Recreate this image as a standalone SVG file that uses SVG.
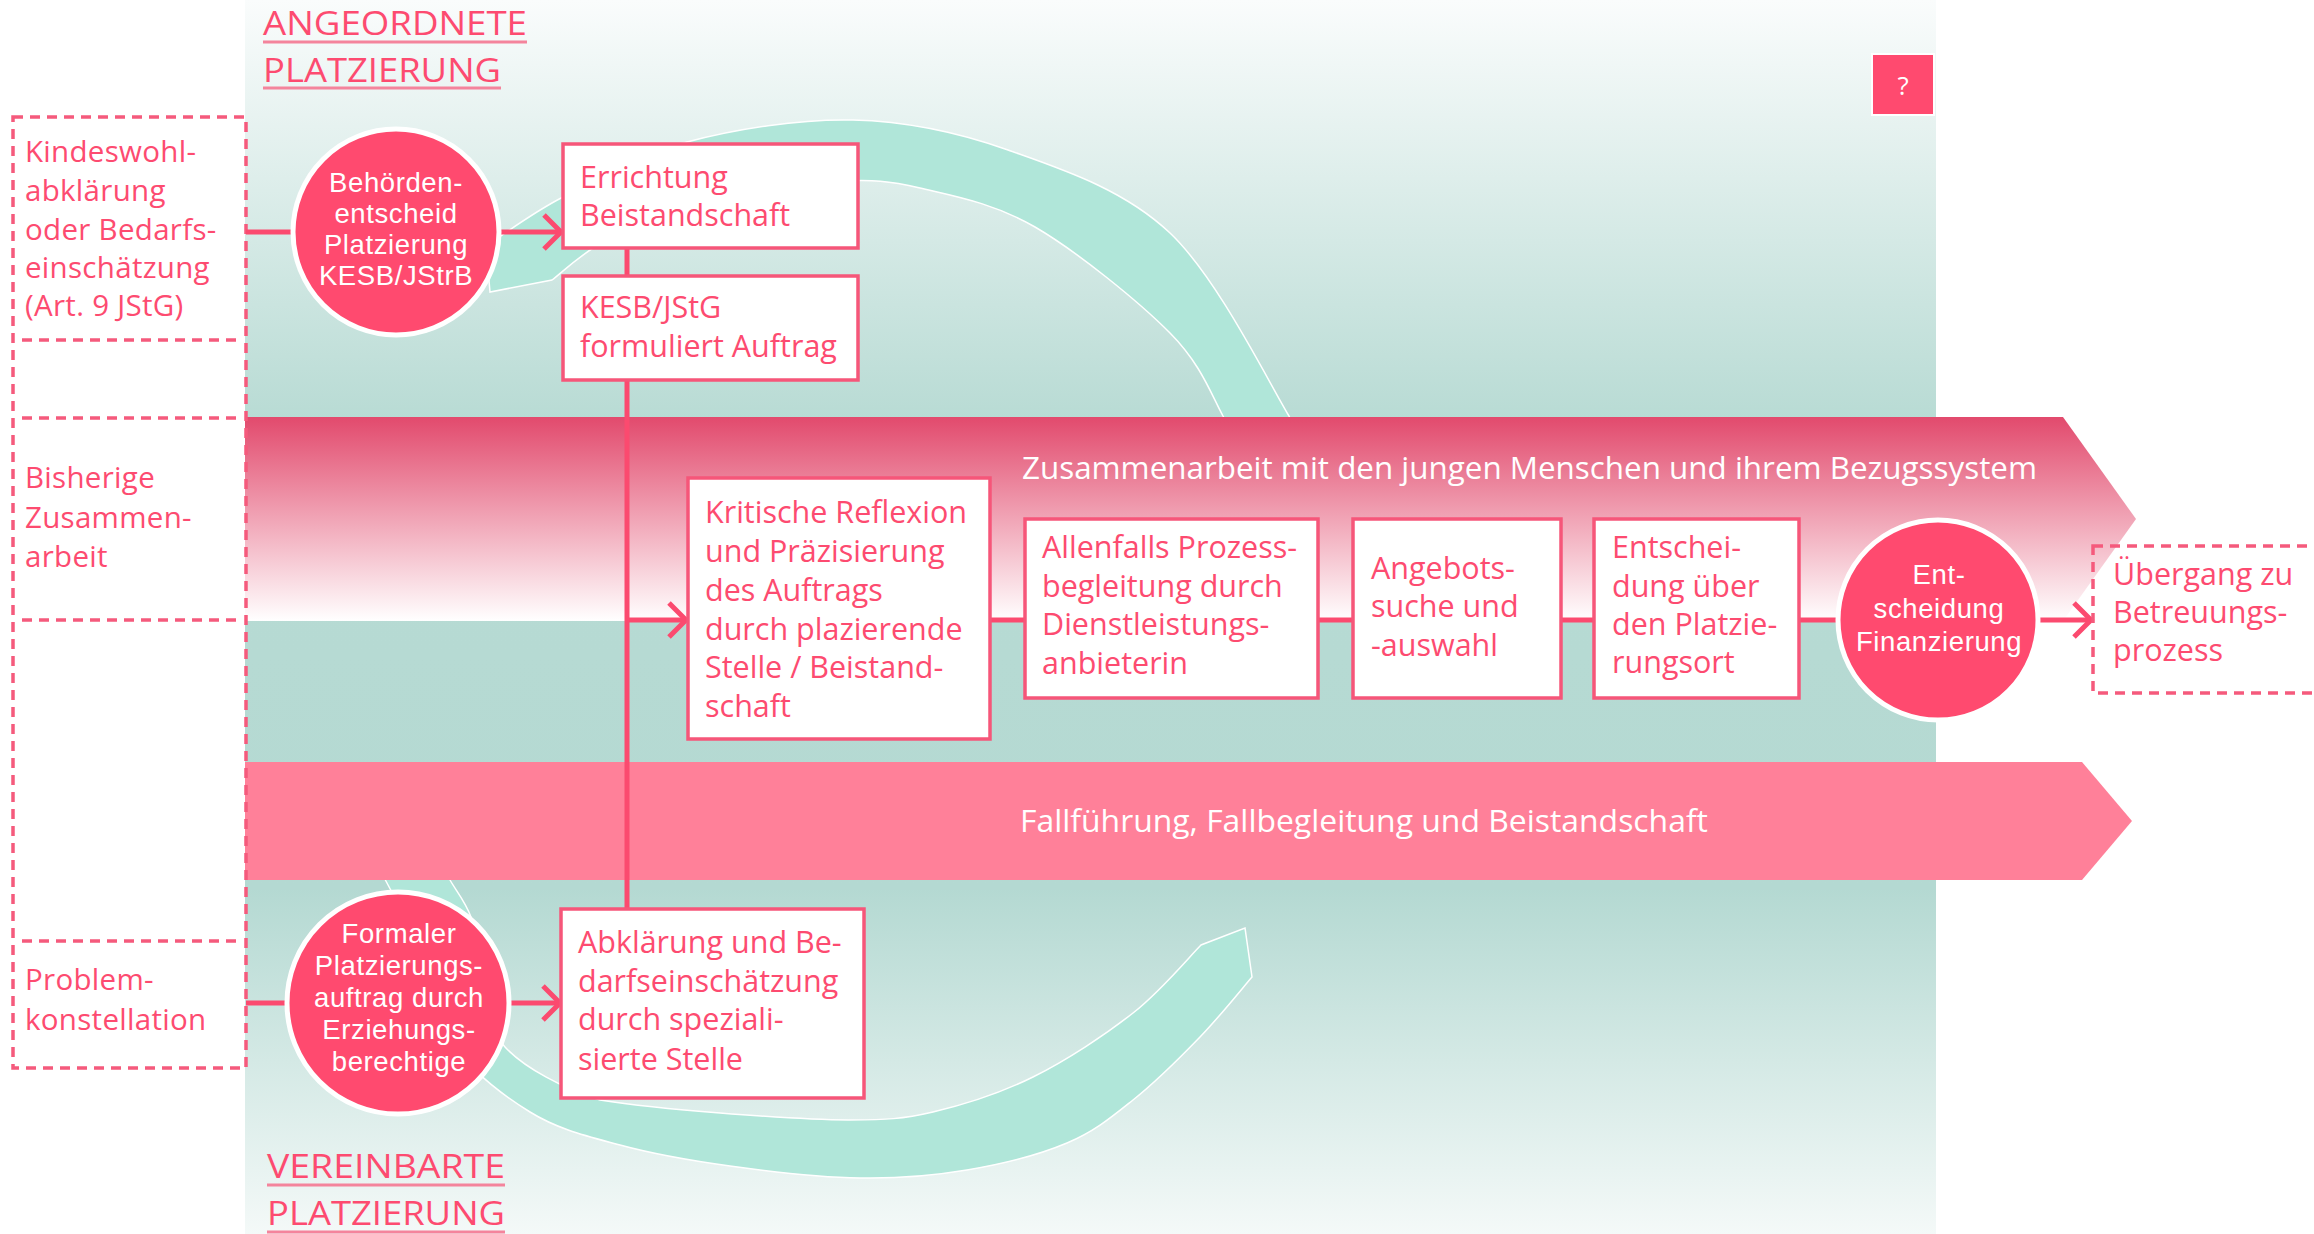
<svg xmlns="http://www.w3.org/2000/svg" width="2314" height="1234" viewBox="0 0 2314 1234">
<defs>
<linearGradient id="panelG" x1="0" y1="0" x2="0" y2="1234" gradientUnits="userSpaceOnUse">
<stop offset="0" stop-color="#fafcfc"/>
<stop offset="0.34" stop-color="#b8dbd4"/>
<stop offset="0.72" stop-color="#b4d9d2"/>
<stop offset="1" stop-color="#f4f9f8"/>
</linearGradient>
<linearGradient id="band1G" x1="0" y1="417" x2="0" y2="621" gradientUnits="userSpaceOnUse">
<stop offset="0" stop-color="#e24a6d"/>
<stop offset="1" stop-color="#ffffff"/>
</linearGradient>
<style>
.t{font-family:"Open Sans","Liberation Sans",sans-serif;font-size:30.5px;fill:#fd4b70}
.l{font-family:"Open Sans","Liberation Sans",sans-serif;font-size:29.5px;letter-spacing:0.3px;fill:#fd4b70}
.c{font-family:"Liberation Sans",Arial,sans-serif;font-size:27.5px;letter-spacing:0.6px;fill:#ffffff;text-anchor:middle}
.h{font-family:"Open Sans","Liberation Sans",sans-serif;font-size:33px;fill:#fd4b70}
.bt{font-family:"Open Sans","Liberation Sans",sans-serif;font-size:30.5px;fill:#ffffff}
.box{fill:#ffffff;stroke:#f65679;stroke-width:3.5}
.circ{fill:#ff4a6f;stroke:#ffffff;stroke-width:5}
.dash{fill:none;stroke:#f55a7c;stroke-width:3.5;stroke-dasharray:10 7}
.con{fill:none;stroke:#fb4a6f;stroke-width:5}
.arc{fill:#b0e6d9;stroke:#ffffff;stroke-width:1.5}
.ul{stroke:#f4849c;stroke-width:3}
</style>
</defs>

<rect id="panel" x="245" y="0" width="1691" height="1234" fill="url(#panelG)"/>

<g id="cycle-arc">
<path class="arc" d="M490 292 L486 246 C499 238 529.5 214.3 563 197 C596.5 179.7 638.7 154.8 687 142 C735.3 129.2 799.5 118.7 853 120 C906.5 121.3 955.2 131.2 1008 150 C1060.8 168.8 1123.2 188.7 1170 233 C1216.8 277.3 1266.5 378.2 1289 416 C1300 440 1303 452 1305 460 L1240 460 C1237.2 452.7 1234.7 437.2 1223 416 C1211.3 394.8 1201.3 364.5 1170 333 C1138.7 301.5 1076.7 251.2 1035 227 C993.3 202.8 952.5 195.7 920 188 C887.5 180.3 873.3 179.8 840 181 C806.7 182.2 758.3 185.5 720 195 C681.7 204.5 638 223.8 610 238 C582 252.2 561.7 273 552 280 Z"/>
<path class="arc" d="M380 870 C385 880 398.3 901.7 410 930 C421.7 958.3 430 1009.7 450 1040 C470 1070.3 501.7 1094.5 530 1112 C558.3 1129.5 586.7 1136 620 1145 C653.3 1154 690 1160.5 730 1166 C770 1171.5 820.5 1177.3 860 1178 C899.5 1178.7 932.5 1175.8 967 1170 C1001.5 1164.2 1039.3 1154.7 1067 1143 C1094.7 1131.3 1110.8 1117.7 1133 1100 C1155.2 1082.3 1180.2 1057.5 1200 1037 C1219.8 1016.5 1243.3 987 1252 977 L1245 928 L1201 945 C1189.7 956.3 1161 991 1133 1013 C1105 1035 1066.3 1060.5 1033 1077 C999.7 1093.5 963.5 1104.8 933 1112 C902.5 1119.2 885.5 1119.8 850 1120 C814.5 1120.2 761.7 1116.3 720 1113 C678.3 1109.7 626.7 1104.2 600 1100 C564.2 1089 524.2 1067.8 505 1047 C485.8 1026.2 490.7 996.7 485 975 C479.3 953.3 476.8 932.8 471 917 C465.2 901.2 455.2 889.5 450 880 L440 860 Z"/>
</g>

<g id="band-zusammenarbeit">
<polygon points="245,417 2063,417 2136,519 2063,621 245,621" fill="url(#band1G)"/>
<text class="bt" x="1022" y="479" textLength="1015" lengthAdjust="spacingAndGlyphs">Zusammenarbeit mit den jungen Menschen und ihrem Bezugssystem</text>
</g>
<g id="band-fallfuehrung">
<polygon points="245,762 2082,762 2132,821 2082,880 245,880" fill="#ff8099"/>
<text class="bt" x="1020" y="832" textLength="688" lengthAdjust="spacingAndGlyphs">Fallführung, Fallbegleitung und Beistandschaft</text>
</g>

<g id="left-column">
<rect class="dash" x="13" y="117" width="233" height="951"/>
<line class="dash" x1="22" y1="340" x2="238" y2="340"/>
<line class="dash" x1="22" y1="418" x2="238" y2="418"/>
<line class="dash" x1="22" y1="620" x2="238" y2="620"/>
<line class="dash" x1="22" y1="941" x2="238" y2="941"/>
</g>

<g id="n-kindeswohl">
<text class="l" x="25" y="162">Kindeswohl-</text>
<text class="l" x="25" y="201">abklärung</text>
<text class="l" x="25" y="240">oder Bedarfs-</text>
<text class="l" x="25" y="278">einschätzung</text>
<text class="l" x="25" y="316">(Art. 9 JStG)</text>
</g>
<g id="n-bisherige">
<text class="l" x="25" y="488">Bisherige</text>
<text class="l" x="25" y="528">Zusammen-</text>
<text class="l" x="25" y="567">arbeit</text>
</g>
<g id="n-problem">
<text class="l" x="25" y="990">Problem-</text>
<text class="l" x="25" y="1030">konstellation</text>
</g>

<g id="connectors">
<line class="con" x1="246" y1="232" x2="296" y2="232"/>
<line class="con" x1="496" y1="232" x2="561" y2="232"/>
<path class="con" d="M544 215 L561 232 L544 249"/>
<line class="con" x1="627" y1="246" x2="627" y2="278"/>
<line class="con" x1="627" y1="378" x2="627" y2="911"/>
<line class="con" x1="627" y1="620" x2="686" y2="620"/>
<path class="con" d="M669 603 L686 620 L669 637"/>
<line class="con" x1="988" y1="620" x2="1027" y2="620"/>
<line class="con" x1="1316" y1="620" x2="1355" y2="620"/>
<line class="con" x1="1559" y1="620" x2="1596" y2="620"/>
<line class="con" x1="1797" y1="620" x2="1840" y2="620"/>
<line class="con" x1="2038" y1="620" x2="2091" y2="620"/>
<path class="con" d="M2074 603 L2091 620 L2074 637"/>
<line class="con" x1="246" y1="1003" x2="290" y2="1003"/>
<line class="con" x1="506" y1="1003" x2="560" y2="1003"/>
<path class="con" d="M543 986 L560 1003 L543 1020"/>
</g>

<g id="n-behoerdenentscheid">
<circle class="circ" cx="396" cy="232" r="103"/>
<text class="c" x="396" y="192">Behörden-</text>
<text class="c" x="396" y="223">entscheid</text>
<text class="c" x="396" y="254">Platzierung</text>
<text class="c" x="396" y="285">KESB/JStrB</text>
</g>

<g id="n-errichtung">
<rect class="box" x="563" y="144" width="295" height="104"/>
<text class="t" x="580" y="188">Errichtung</text>
<text class="t" x="580" y="226">Beistandschaft</text>
</g>

<g id="n-kesb">
<rect class="box" x="563" y="276" width="295" height="104"/>
<text class="t" x="580" y="318">KESB/JStG</text>
<text class="t" x="580" y="357">formuliert Auftrag</text>
</g>

<g id="n-kritische">
<rect class="box" x="688" y="478" width="302" height="261"/>
<text class="t" x="705" y="523">Kritische Reflexion</text>
<text class="t" x="705" y="562">und Präzisierung</text>
<text class="t" x="705" y="601">des Auftrags</text>
<text class="t" x="705" y="640">durch plazierende</text>
<text class="t" x="705" y="678">Stelle / Beistand-</text>
<text class="t" x="705" y="717">schaft</text>
</g>

<g id="n-allenfalls">
<rect class="box" x="1025" y="519" width="293" height="179"/>
<text class="t" x="1042" y="558">Allenfalls Prozess-</text>
<text class="t" x="1042" y="597">begleitung durch</text>
<text class="t" x="1042" y="635">Dienstleistungs-</text>
<text class="t" x="1042" y="674">anbieterin</text>
</g>

<g id="n-angebots">
<rect class="box" x="1353" y="519" width="208" height="179"/>
<text class="t" x="1371" y="579">Angebots-</text>
<text class="t" x="1371" y="617">suche und</text>
<text class="t" x="1371" y="656">-auswahl</text>
</g>

<g id="n-entscheidung-ort">
<rect class="box" x="1594" y="519" width="205" height="179"/>
<text class="t" x="1612" y="558">Entschei-</text>
<text class="t" x="1612" y="597">dung über</text>
<text class="t" x="1612" y="635">den Platzie-</text>
<text class="t" x="1612" y="673">rungsort</text>
</g>

<g id="n-finanzierung">
<circle class="circ" cx="1938" cy="620" r="100"/>
<text class="c" x="1939" y="584">Ent-</text>
<text class="c" x="1939" y="618">scheidung</text>
<text class="c" x="1939" y="651">Finanzierung</text>
</g>

<g id="n-uebergang">
<rect class="dash" x="2093" y="546" width="240" height="147"/>
<text class="t" x="2113" y="585">Übergang zu</text>
<text class="t" x="2113" y="623">Betreuungs-</text>
<text class="t" x="2113" y="661">prozess</text>
</g>

<g id="n-formaler">
<circle class="circ" cx="398" cy="1003" r="111"/>
<text class="c" x="399" y="943">Formaler</text>
<text class="c" x="399" y="975">Platzierungs-</text>
<text class="c" x="399" y="1007">auftrag durch</text>
<text class="c" x="399" y="1039">Erziehungs-</text>
<text class="c" x="399" y="1071">berechtige</text>
</g>

<g id="n-abklaerung">
<rect class="box" x="561" y="909" width="303" height="189"/>
<text class="t" x="578" y="953">Abklärung und Be-</text>
<text class="t" x="578" y="992">darfseinschätzung</text>
<text class="t" x="578" y="1030">durch speziali-</text>
<text class="t" x="578" y="1070">sierte Stelle</text>
</g>

<g id="heading-angeordnet">
<text class="h" x="263" y="35" textLength="264" lengthAdjust="spacingAndGlyphs">ANGEORDNETE</text>
<line class="ul" x1="263" y1="42" x2="527" y2="42"/>
<text class="h" x="263" y="82" textLength="238" lengthAdjust="spacingAndGlyphs">PLATZIERUNG</text>
<line class="ul" x1="263" y1="88" x2="501" y2="88"/>
</g>

<g id="heading-vereinbart">
<text class="h" x="267" y="1178" textLength="238" lengthAdjust="spacingAndGlyphs">VEREINBARTE</text>
<line class="ul" x1="267" y1="1185" x2="505" y2="1185"/>
<text class="h" x="267" y="1225" textLength="238" lengthAdjust="spacingAndGlyphs">PLATZIERUNG</text>
<line class="ul" x1="267" y1="1232" x2="505" y2="1232"/>
</g>

<g id="help-button">
<rect x="1872" y="54" width="62" height="61" fill="#ff4a6f" stroke="#ffffff" stroke-width="2"/>
<text x="1903" y="95" font-family="Open Sans, Liberation Sans, sans-serif" font-size="26" fill="#ffffff" text-anchor="middle">?</text>
</g>
</svg>
